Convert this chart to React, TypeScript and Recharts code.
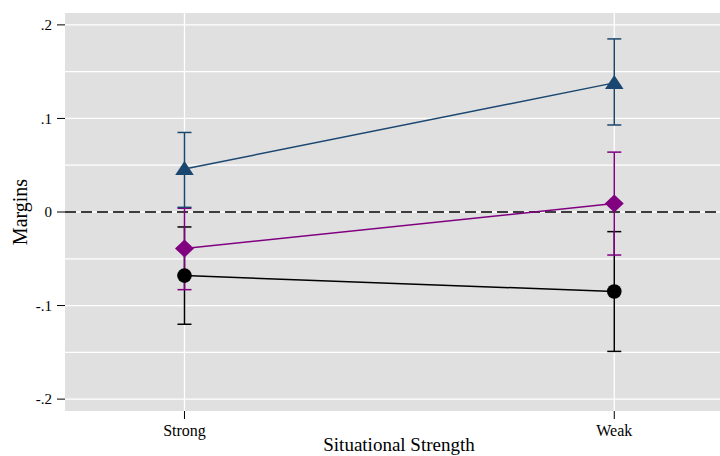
import React from 'react';
import {
  ComposedChart,
  Line,
  ErrorBar,
  XAxis,
  YAxis,
  CartesianGrid,
  ReferenceLine
} from 'recharts';

const categories = ['Strong', 'Weak'];

const blueMean = [0.046, 0.138];
const blueLow = [0.005, 0.093];
const blueHigh = [0.085, 0.185];

const purpleMean = [-0.039, 0.009];
const purpleLow = [-0.083, -0.046];
const purpleHigh = [0.004, 0.064];

const blackMean = [-0.068, -0.085];
const blackLow = [-0.12, -0.149];
const blackHigh = [-0.016, -0.021];

const yTicks = [-0.2, -0.1, 0, 0.1, 0.2];
const yTickLabels = ['-.2', '-.1', '0', '.1', '.2'];
const yGrid = [-0.2, -0.15, -0.1, -0.05, 0, 0.05, 0.1, 0.15, 0.2];

const BLUE = '#1a476f';
const PURPLE = '#800080';
const BLACK = '#000000';
const FONT = '"Liberation Serif", "DejaVu Serif", serif';

const data = categories.map((cat, i) => ({
  x: i,
  cat,
  blue: blueMean[i],
  blueErr: [blueMean[i] - blueLow[i], blueHigh[i] - blueMean[i]],
  purple: purpleMean[i],
  purpleErr: [purpleMean[i] - purpleLow[i], purpleHigh[i] - purpleMean[i]],
  black: blackMean[i],
  blackErr: [blackMean[i] - blackLow[i], blackHigh[i] - blackMean[i]]
}));

const CircleDot = (props: any) => {
  const { cx, cy, index } = props;
  return <circle key={`c-${index}`} cx={cx} cy={cy} r={7.3} fill={BLACK} />;
};

const DiamondDot = (props: any) => {
  const { cx, cy, index } = props;
  const pts = `${cx},${cy - 9} ${cx + 9.5},${cy} ${cx},${cy + 9} ${cx - 9.5},${cy}`;
  return <polygon key={`d-${index}`} points={pts} fill={PURPLE} />;
};

const TriangleDot = (props: any) => {
  const { cx, cy, index } = props;
  const pts = `${cx},${cy - 8} ${cx + 9.3},${cy + 6} ${cx - 9.3},${cy + 6}`;
  return <polygon key={`t-${index}`} points={pts} fill={BLUE} />;
};

const App = () => {
  return (
    <div style={{ position: 'absolute', left: 0, top: 0, width: 720, height: 456, background: '#ffffff' }}>
      <ComposedChart
        width={720}
        height={456}
        data={data}
        margin={{ top: 13, right: 0, bottom: 0, left: 0 }}
        style={{ fontFamily: FONT }}
      >
        <CartesianGrid
          fill="#e0e0e0"
          stroke="#ffffff"
          strokeWidth={1.3}
          horizontalValues={yGrid}
          verticalValues={[0, 1]}
        />
        <XAxis
          type="number"
          dataKey="x"
          domain={[-0.278, 1.246]}
          ticks={[0, 1]}
          allowDataOverflow
          tickFormatter={(v: number) => categories[v] ?? ''}
          axisLine={false}
          tickSize={8}
          tickMargin={6}
          tickLine={{ stroke: '#000000' }}
          tick={{ fill: '#000000', fontSize: 16, fontFamily: FONT }}
          height={45}
          label={{
            content: () => (
              <text x={399} y={451} textAnchor="middle" fontSize={19} fontFamily={FONT} fill="#000000">
                Situational Strength
              </text>
            )
          }}
        />
        <YAxis
          type="number"
          domain={[-0.2127, 0.2127]}
          ticks={yTicks}
          allowDataOverflow
          tickFormatter={(v: number) => yTickLabels[yTicks.indexOf(v)] ?? ''}
          axisLine={false}
          tickSize={8}
          tickMargin={5}
          tickLine={{ stroke: '#000000' }}
          tick={{ fill: '#000000', fontSize: 15, fontFamily: FONT }}
          width={65}
          label={{
            content: () => (
              <text
                x={27}
                y={212}
                transform="rotate(-90 27 212)"
                textAnchor="middle"
                fontSize={20}
                fontFamily={FONT}
                fill="#000000"
              >
                Margins
              </text>
            )
          }}
        />
        <ReferenceLine y={0} stroke="#000000" strokeWidth={1.5} strokeDasharray="11 5" />
        <Line
          dataKey="black"
          stroke={BLACK}
          strokeWidth={1.5}
          dot={CircleDot}
          activeDot={false}
          isAnimationActive={false}
        >
          <ErrorBar dataKey="blackErr" width={7} stroke={BLACK} strokeWidth={1.5} />
        </Line>
        <Line
          dataKey="purple"
          stroke={PURPLE}
          strokeWidth={1.5}
          dot={DiamondDot}
          activeDot={false}
          isAnimationActive={false}
        >
          <ErrorBar dataKey="purpleErr" width={7} stroke={PURPLE} strokeWidth={1.5} />
        </Line>
        <Line
          dataKey="blue"
          stroke={BLUE}
          strokeWidth={1.5}
          dot={TriangleDot}
          activeDot={false}
          isAnimationActive={false}
        >
          <ErrorBar dataKey="blueErr" width={7} stroke={BLUE} strokeWidth={1.5} />
        </Line>
      </ComposedChart>
    </div>
  );
};

export default App;
